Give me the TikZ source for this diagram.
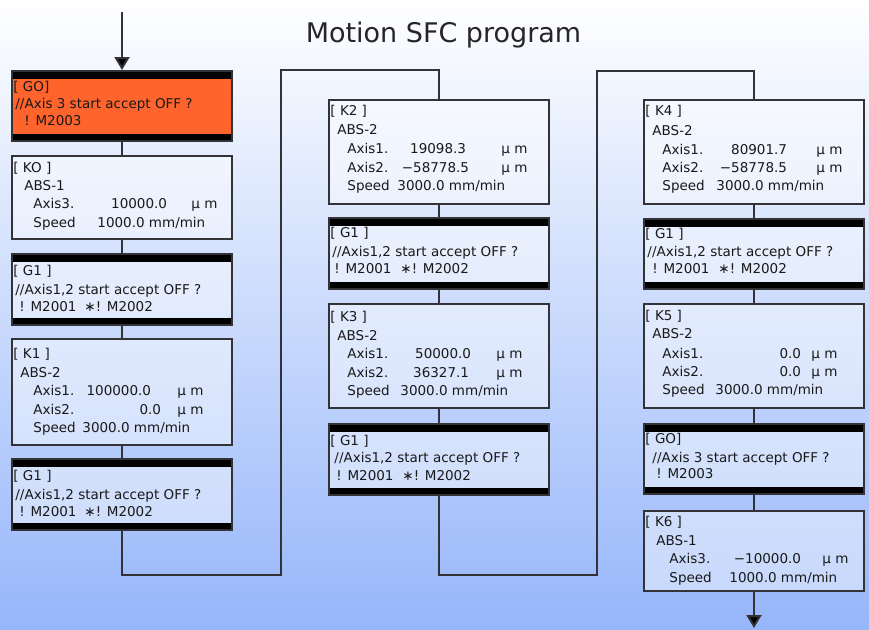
\documentclass[tikz,border=0pt]{standalone}
\usepackage{fontspec}
\setmainfont{DejaVu Sans}
\usetikzlibrary{arrows.meta}
\definecolor{sfcorange}{RGB}{255,100,45}
\definecolor{bgblue}{RGB}{150,182,250}
\definecolor{boxline}{RGB}{50,50,55}
\def\boxwidth{220pt}
\tikzset{
  stepbox/.style={draw=boxline, line width=1.5pt, fill=white, fill opacity=0.45,
    minimum width=\boxwidth, inner sep=0pt},
  transbox/.style={stepbox, path picture={
      \fill[black, fill opacity=1] (path picture bounding box.north west) rectangle ([yshift=-8pt]path picture bounding box.north east);
      \fill[black, fill opacity=1] (path picture bounding box.south west) rectangle ([yshift=7pt]path picture bounding box.south east);
    }},
  hotbox/.style={transbox, fill=sfcorange, fill opacity=1},
  steptext/.style={inner sep=0pt, font=\fontsize{13.5}{15}\selectfont, text=black!90},
  link/.style={draw=boxline, line width=2pt},
  flow/.style={link, -{Triangle[length=13pt,width=15pt,fill=black]}}
}
\newcommand{\sfcstep}[6]{
   % box first, then its text lines
   \node[#2, minimum height=#5pt, anchor=north] (#1) at (#3,#4) {};
   \foreach \dx/\dy/\anc/\txt [count=\i] in {#6} {
      \node[steptext, anchor=\anc] (#1-\i) at ([shift={(\dx,\dy)}]#1.north west) {\txt};
   }
}

\begin{document}
\begin{tikzpicture}[x=1pt, y=-1pt]
\shade[top color=white, bottom color=bgblue] (0,0) rectangle (869,629);
\useasboundingbox (0,0) rectangle (869,629);

\node[font=\fontsize{27}{30}\selectfont, text=black!85, anchor=base] (title) at (443.5,42) {Motion SFC program};

% left column
\sfcstep{G0}{hotbox}{122}{70}{70}{2/21/base west/{[ GO]}, 4/38/base west/{//Axis 3 start accept OFF ?}, 13/55/base west/{! M2003}}
\sfcstep{K0}{stepbox}{122}{155}{83}{2/17/base west/{[ KO ]}, 13/35/base west/ABS-1, 22/53/base west/Axis3., 156/53/base east/10000.0, 180/53/base west/{μ m}, 22/72/base west/Speed, 86/72/base west/{1000.0 mm/min}}
\sfcstep{G1a}{transbox}{122}{253}{71}{2/22/base west/{[ G1 ]}, 4/41/base west/{//Axis1,2 start accept OFF ?}, 8/58/base west/{! M2001}, 73/58/base west/{∗! M2002}}
\sfcstep{K1}{stepbox}{122}{338}{106}{2/20/base west/{[ K1 ]}, 9/39/base west/ABS-2, 22/57/base west/Axis1., 140/57/base east/100000.0, 166/57/base west/{μ m}, 22/76/base west/Axis2., 150/76/base east/0.0, 166/76/base west/{μ m}, 22/94/base west/Speed, 71/94/base west/{3000.0 mm/min}}
\sfcstep{G1b}{transbox}{122}{458}{71}{2/22/base west/{[ G1 ]}, 4/41/base west/{//Axis1,2 start accept OFF ?}, 8/58/base west/{! M2001}, 73/58/base west/{∗! M2002}}

% middle column
\sfcstep{K2}{stepbox}{439}{99}{104}{2/16/base west/{[ K2 ]}, 9/35/base west/ABS-2, 19/54/base west/Axis1., 138/54/base east/19098.3, 173/54/base west/{μ m}, 19/73/base west/Axis2., 141/73/base east/−58778.5, 173/73/base west/{μ m}, 19/91/base west/Speed, 69/91/base west/{3000.0 mm/min}}
\sfcstep{G1c}{transbox}{439}{217}{71}{2/20/base west/{[ G1 ]}, 4/39/base west/{//Axis1,2 start accept OFF ?}, 6/56/base west/{! M2001}, 72/56/base west/{∗! M2002}}
\sfcstep{K3}{stepbox}{439}{303}{104}{2/18/base west/{[ K3 ]}, 9/37/base west/ABS-2, 19/55/base west/Axis1., 143/55/base east/50000.0, 168/55/base west/{μ m}, 19/74/base west/Axis2., 141/74/base east/36327.1, 168/74/base west/{μ m}, 19/92/base west/Speed, 72/92/base west/{3000.0 mm/min}}
\sfcstep{G1d}{transbox}{439}{423}{71}{2/22/base west/{[ G1 ]}, 6/39/base west/{//Axis1,2 start accept OFF ?}, 8/57/base west/{! M2001}, 74/57/base west/{∗! M2002}}

% right column
\sfcstep{K4}{stepbox}{754}{99}{104}{2/16/base west/{[ K4 ]}, 9/36/base west/ABS-2, 19/55/base west/Axis1., 144/55/base east/80901.7, 173/55/base west/{μ m}, 19/73/base west/Axis2., 144/73/base east/−58778.5, 173/73/base west/{μ m}, 19/91/base west/Speed, 73/91/base west/{3000.0 mm/min}}
\sfcstep{G1e}{transbox}{754}{218}{70}{2/20/base west/{[ G1 ]}, 4/38/base west/{//Axis1,2 start accept OFF ?}, 9/55/base west/{! M2001}, 75/55/base west/{∗! M2002}}
\sfcstep{K5}{stepbox}{754}{303}{104}{2/17/base west/{[ K5 ]}, 9/35/base west/ABS-2, 19/55/base west/Axis1., 158/55/base east/0.0, 168/55/base west/{μ m}, 19/73/base west/Axis2., 158/73/base east/0.0, 168/73/base west/{μ m}, 19/91/base west/Speed, 72/91/base west/{3000.0 mm/min}}
\sfcstep{G0b}{transbox}{754}{423}{70}{2/20/base west/{[ GO]}, 9/39/base west/{//Axis 3 start accept OFF ?}, 13/55/base west/{! M2003}}
\sfcstep{K6}{stepbox}{754}{510}{80}{2/16/base west/{[ K6 ]}, 13/35/base west/ABS-1, 26/53/base west/Axis3., 158/53/base east/−10000.0, 179/53/base west/{μ m}, 26/72/base west/Speed, 86/72/base west/{1000.0 mm/min}}

% connectors
\coordinate (entry) at (122,12);
\coordinate (exit) at (754,628);
\coordinate (loopA-bot) at (281,575);
\coordinate (loopA-top) at (281,70);
\coordinate (loopB-bot) at (597,575);
\coordinate (loopB-top) at (597,71);

\draw[flow] (entry) -- (G0);
\draw[link] (G0) -- (K0) (K0) -- (G1a) (G1a) -- (K1) (K1) -- (G1b);
\draw[link] (G1b) |- (loopA-bot) -- (loopA-top) -| (K2);
\draw[link] (K2) -- (G1c) (G1c) -- (K3) (K3) -- (G1d);
\draw[link] (G1d) |- (loopB-bot) -- (loopB-top) -| (K4);
\draw[link] (K4) -- (G1e) (G1e) -- (K5) (K5) -- (G0b) (G0b) -- (K6);
\draw[flow] (K6) -- (exit);
\end{tikzpicture}
\end{document}
